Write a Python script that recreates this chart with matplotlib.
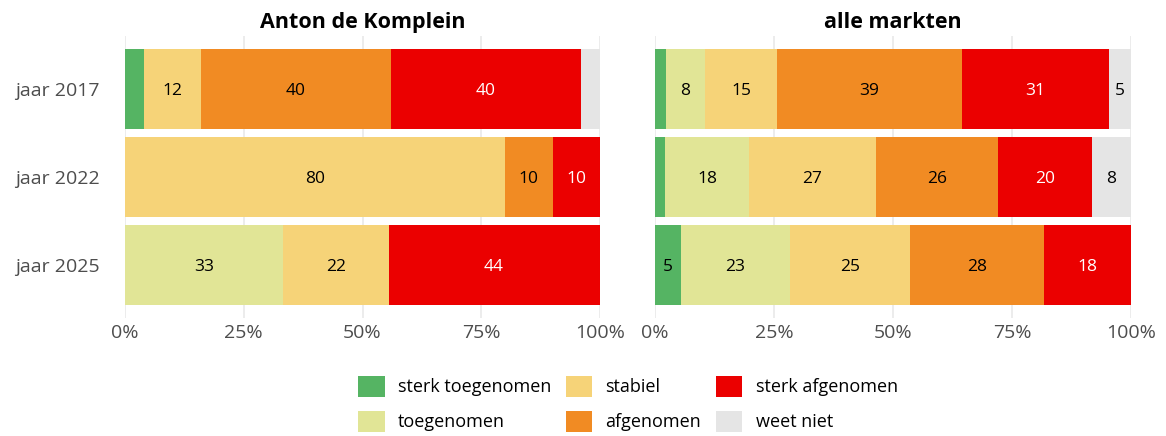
import matplotlib
matplotlib.use("Agg")
import matplotlib.pyplot as plt
from matplotlib.patches import Patch
import numpy as np

years = ["jaar 2017", "jaar 2022", "jaar 2025"]
categories = ["sterk toegenomen", "toegenomen", "stabiel", "afgenomen", "sterk afgenomen", "weet niet"]
colors = ["#55B463", "#E1E596", "#F6D378", "#F18B23", "#EB0000", "#E5E5E5"]
text_colors = ["black", "black", "black", "black", "white", "black"]

panel_titles = ["Anton de Komplein", "alle markten"]

# values (%) per year, per category
anton_2017 = [4.0, 0.0, 12.0, 40.0, 40.0, 4.0]
anton_2022 = [0.0, 0.0, 80.0, 10.0, 10.0, 0.0]
anton_2025 = [0.0, 33.3, 22.2, 0.0, 44.4, 0.0]

alle_2017 = [2.3, 8.2, 15.2, 38.7, 30.9, 4.7]
alle_2022 = [2.1, 17.7, 26.6, 25.6, 19.8, 8.2]
alle_2025 = [5.4, 22.9, 25.3, 28.2, 18.2, 0.0]

panels = [[anton_2017, anton_2022, anton_2025], [alle_2017, alle_2022, alle_2025]]

W, H = 1166, 436
fig = plt.figure(figsize=(W / 100, H / 100), dpi=100)

axes_px = [(125, 475), (655, 476)]
top_px, bot_px = 36, 318

for p, (x0, w) in enumerate(axes_px):
    ax = fig.add_axes([x0 / W, (H - bot_px) / H, w / W, (bot_px - top_px) / H])
    data = np.array(panels[p])
    ypos = np.arange(len(years))
    left = np.zeros(len(years))
    for c in range(len(categories)):
        vals = data[:, c]
        ax.barh(ypos, vals, left=left, height=0.9, color=colors[c], zorder=2, linewidth=0)
        for i, v in enumerate(vals):
            if v >= 4.5:
                ax.text(left[i] + v / 2, ypos[i], f"{int(round(v))}", ha="center", va="center_baseline",
                        color=text_colors[c], fontsize=12.5, family="Open Sans", zorder=3)
        left += vals
    ax.set_xlim(0, 100)
    ax.set_ylim(2.6, -0.6)
    ax.set_xticks([0, 25, 50, 75, 100])
    ax.set_xticklabels(["0%", "25%", "50%", "75%", "100%"])
    ax.grid(axis="x", color="#EBEBEB", linewidth=1.3, zorder=0)
    ax.set_axisbelow(True)
    for s in ax.spines.values():
        s.set_visible(False)
    ax.tick_params(length=0, labelsize=14, labelcolor="#4D4D4D")
    ax.tick_params(axis="x", pad=4)
    for lab in ax.get_xticklabels():
        lab.set_family("Open Sans")
    ax.set_yticks(ypos)
    if p == 0:
        ax.set_yticklabels(years)
        for lab in ax.get_yticklabels():
            lab.set_family("Open Sans")
        ax.tick_params(axis="y", pad=18)
    else:
        ax.set_yticklabels([])
    ax.set_title(panel_titles[p], fontsize=15.5, fontweight="bold", family="Open Sans", pad=6)

handles = [Patch(facecolor=colors[c], edgecolor="none") for c in range(len(categories))]
fig.legend(handles, categories, ncol=3, loc="center", bbox_to_anchor=(628 / W, 1 - 404 / H),
           frameon=False, prop={"family": "Open Sans", "size": 13},
           handlelength=1.45, handleheight=1.45, columnspacing=0.8, labelspacing=0.75, handletextpad=0.75)

fig.savefig("out.png", dpi=100)
